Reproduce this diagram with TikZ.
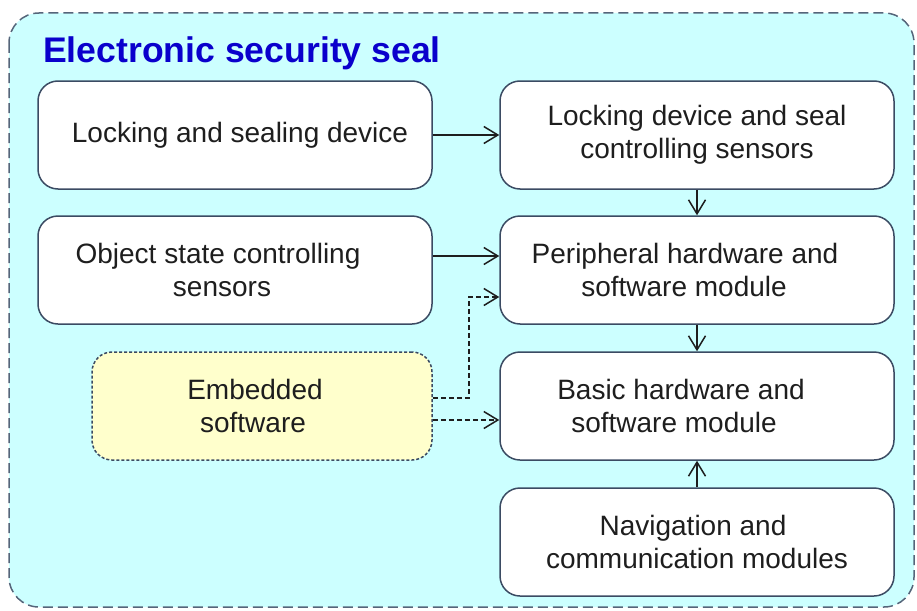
\documentclass[tikz,border=0pt]{standalone}
\usepackage{fontspec}
\setmainfont{Liberation Sans}
\usetikzlibrary{arrows.meta,positioning}
\definecolor{sealCyan}{HTML}{CCFFFF}
\definecolor{sealEdge}{HTML}{3B4B63}
\definecolor{sealDash}{HTML}{55657A}
\definecolor{sealTitle}{HTML}{0A00CC}
\definecolor{sealYellow}{HTML}{FFFFCC}
\definecolor{sealInk}{HTML}{1E1E1E}
\tikzset{
  >={Straight Barb[length=14pt,width=17pt]},
  unit/.style={rounded corners=20pt, draw=sealEdge, fill=white, line width=1.5pt,
              minimum width=394pt, minimum height=108pt, align=center, text=sealInk,
              font=\fontsize{28}{33}\selectfont, inner sep=0pt},
  soft/.style={unit, dash pattern=on 3pt off 2pt, fill=sealYellow, minimum width=340pt},
  link/.style={->, draw=sealInk, line width=1.5pt},
  dlink/.style={link, dash pattern=on 5pt off 3pt},
}
\newcommand{\pad}[1]{\hspace*{#1pt}}

\begin{document}
\begin{tikzpicture}[x=1pt,y=-1pt]
        \useasboundingbox (0,0) rectangle (917,610);
        \draw[draw=sealDash, fill=sealCyan, line width=1.5pt, dash pattern=on 10pt off 5pt,
              rounded corners=30pt] (9,13) rectangle (914,607);
        \node[anchor=base west, inner sep=0pt, text=sealTitle,
              font=\bfseries\fontsize{35.6}{40}\selectfont] (title) at (43,63)
              {Electronic security seal};
        % left column
        \node[unit] (lock) at (235,135) {\pad{10}Locking and sealing device};
        \node[unit] (objs) at (235,270) {Object state controlling\pad{34}\\sensors\pad{26}};
        \node[soft] (emb) at (262,406) {Embedded\pad{14}\\software\pad{18}};
        % right column
        \node[unit] (ctrl) at (697,135) {Locking device and seal\\controlling sensors};
        \node[unit] (periph) at (697,270) {Peripheral hardware and\pad{24}\\software module\pad{26}};
        \node[unit] (basic) at (697,406) {Basic hardware and\pad{32}\\software module\pad{46}};
        \node[unit] (nav) at (697,542) {Navigation and\pad{8}\\communication modules};
        % connectors
        \draw[link] (lock) -- (ctrl);
        \draw[link] ([yshift=14pt]objs.east) -- ([yshift=14pt]periph.west);
        \draw[link] (ctrl) -- (periph);
        \draw[link] (periph) -- (basic);
        \draw[link] (nav) -- (basic);
        \draw[dlink] ([yshift=8pt]emb.east) -- ++(36,0) |- ([yshift=-27pt]periph.west);
        \draw[dlink] ([yshift=-14pt]emb.east) -- ([yshift=-14pt]basic.west);
      \end{tikzpicture}
\end{document}
